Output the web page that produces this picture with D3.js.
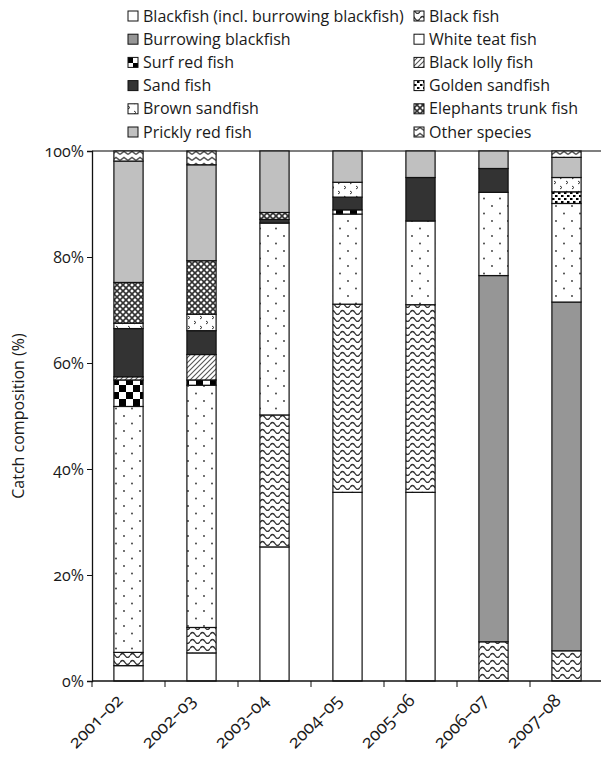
<!DOCTYPE html>
<html>
<head>
<meta charset="utf-8">
<script src="https://cdn.jsdelivr.net/npm/d3@7"></script>
<style>
  body { margin: 0; background: #fff; }
  svg text { font-family: "Open Sans", sans-serif; fill: #1a1a1a; font-variant-numeric: oldstyle-nums; }
</style>
</head>
<body>
<div id="wrap"></div>
<script>
// 年份
const years = ["2001–02", "2002–03", "2003–04", "2004–05", "2005–06", "2006–07", "2007–08"];
// 各物种占比 (%)，自下而上堆叠
const blackfishAll = [2.9, 5.3, 25.3, 35.6, 35.6, 0, 0];
const blackFish = [2.5, 4.8, 24.9, 35.5, 35.4, 7.4, 5.7];
const burrowing = [0, 0, 0, 0, 0, 69.1, 65.8];
const whiteTeat = [46.4, 45.7, 36.2, 17.0, 15.8, 15.7, 18.6];
const surfRed = [5.0, 1.0, 0, 0.8, 0, 0, 0];
const blackLolly = [0.6, 4.8, 0, 0, 0, 0, 0];
const sandFish = [9.1, 4.5, 0.7, 2.4, 8.2, 4.5, 0];
const goldenSand = [0, 0, 0, 0, 0, 0, 2.2];
const brownSand = [1.0, 3.1, 0, 2.8, 0, 0, 2.7];
const elephantsTrunk = [7.7, 10.1, 1.3, 0, 0, 0, 0];
const pricklyRed = [22.9, 18.1, 11.6, 5.9, 5.0, 3.3, 3.8];
const otherSpecies = [1.9, 2.6, 0, 0, 0, 0, 1.2];
const yTicks = [0, 20, 40, 60, 80, 100];

const series = [
  { name: "Blackfish (incl. burrowing blackfish)", values: blackfishAll, fill: "#fff" },
  { name: "Black fish", values: blackFish, fill: "url(#wave)" },
  { name: "Burrowing blackfish", values: burrowing, fill: "#969696" },
  { name: "White teat fish", values: whiteTeat, fill: "url(#dots)" },
  { name: "Surf red fish", values: surfRed, fill: "url(#checker)" },
  { name: "Black lolly fish", values: blackLolly, fill: "url(#diag)" },
  { name: "Sand fish", values: sandFish, fill: "#333" },
  { name: "Golden sandfish", values: goldenSand, fill: "url(#golden)" },
  { name: "Brown sandfish", values: brownSand, fill: "url(#arrows)" },
  { name: "Elephants trunk fish", values: elephantsTrunk, fill: "url(#lattice)" },
  { name: "Prickly red fish", values: pricklyRed, fill: "#c0c0c0" },
  { name: "Other species", values: otherSpecies, fill: "url(#zigzag)" }
];

const width = 601;
const height = 773;
const margin = { top: 151, left: 92, bottom: 681, right: 603 };

let svg = d3.select("#wrap")
  .append("svg")
  .attr("width", width)
  .attr("height", height);

// 图案定义
const defs = svg.append("defs");
function pattern(id, w, h, bg) {
  const p = defs.append("pattern")
    .attr("id", id)
    .attr("patternUnits", "userSpaceOnUse")
    .attr("width", w)
    .attr("height", h);
  p.append("rect").attr("width", w).attr("height", h).attr("fill", bg);
  return p;
}
pattern("wave", 10, 7, "#fff")
  .append("path")
  .attr("d", "M0,4.5 Q2.5,0.5 5,4.5 T10,4.5")
  .attr("fill", "none").attr("stroke", "#333").attr("stroke-width", 1.4);
const dots = pattern("dots", 16, 15, "#fff");
dots.append("circle").attr("cx", 4).attr("cy", 3.5).attr("r", 0.9).attr("fill", "#333");
dots.append("circle").attr("cx", 12).attr("cy", 11).attr("r", 0.9).attr("fill", "#333");
const checker = pattern("checker", 14, 14, "#fff");
checker.append("rect").attr("width", 7).attr("height", 7).attr("fill", "#000");
checker.append("rect").attr("x", 7).attr("y", 7).attr("width", 7).attr("height", 7).attr("fill", "#000");
pattern("diag", 5, 5, "#fff")
  .append("path")
  .attr("d", "M-1,6 L6,-1 M-1,1 L1,-1 M4,6 L6,4")
  .attr("stroke", "#555").attr("stroke-width", 1.1);
const golden = pattern("golden", 6, 6, "#fff");
golden.append("rect").attr("width", 2.5).attr("height", 2).attr("fill", "#000");
golden.append("rect").attr("x", 3).attr("y", 3).attr("width", 2.5).attr("height", 2).attr("fill", "#000");
const arrows = pattern("arrows", 12, 10, "#fff");
arrows.append("path").attr("d", "M2,1 L4,2.5 L2,4").attr("fill", "none").attr("stroke", "#333").attr("stroke-width", 1);
arrows.append("path").attr("d", "M8,6 L10,7.5 L8,9").attr("fill", "none").attr("stroke", "#333").attr("stroke-width", 1);
pattern("lattice", 6, 6, "#fff")
  .append("path")
  .attr("d", "M0,0 L6,6 M6,0 L0,6")
  .attr("stroke", "#333").attr("stroke-width", 1.6);
pattern("zigzag", 8, 6, "#fff")
  .append("path")
  .attr("d", "M0,4.5 L4,1.5 L8,4.5")
  .attr("fill", "none").attr("stroke", "#555").attr("stroke-width", 1.5);

// 比例尺
const xScale = d3.scaleBand()
  .domain(years)
  .range([margin.left, margin.right])
  .paddingInner(0.6)
  .paddingOuter(0.3);
const yScale = d3.scaleLinear()
  .domain([0, 100])
  .range([margin.bottom, margin.top]);

// 堆叠数据
const rows = years.map((y, i) => {
  const r = { year: y };
  series.forEach(s => { r[s.name] = s.values[i]; });
  return r;
});
const stacked = d3.stack().keys(series.map(s => s.name))(rows);

// 顶部边线
svg.append("line")
  .attr("x1", margin.left).attr("x2", width)
  .attr("y1", yScale(100)).attr("y2", yScale(100))
  .attr("stroke", "#555").attr("stroke-width", 1.3);

// 画柱子
stacked.forEach((layer, k) => {
  svg.append("g")
    .selectAll("rect")
    .data(layer.filter(d => d[1] - d[0] > 0))
    .enter()
    .append("rect")
    .attr("x", d => xScale(d.data.year))
    .attr("y", d => yScale(d[1]))
    .attr("width", xScale.bandwidth())
    .attr("height", d => yScale(d[0]) - yScale(d[1]))
    .attr("fill", series[k].fill)
    .attr("stroke", "#111")
    .attr("stroke-width", 1.2);
});

// y轴
const yAxis = d3.axisLeft(yScale)
  .tickValues(yTicks)
  .tickSize(5)
  .tickFormat(d => d + "%");
const gy = svg.append("g").attr("transform", `translate(${margin.left},0)`).call(yAxis);
gy.select(".domain").attr("stroke", "#111").attr("stroke-width", 1.3);
gy.selectAll(".tick line").attr("stroke", "#111");
gy.selectAll("text").attr("font-size", 16).attr("x", -8);

// x轴
const gx = svg.append("g");
gx.append("line")
  .attr("x1", margin.left).attr("x2", width)
  .attr("y1", margin.bottom).attr("y2", margin.bottom)
  .attr("stroke", "#111").attr("stroke-width", 1.3);
const step = xScale.step();
const bounds = years.map(y => xScale(y) - step * xScale.paddingInner() / 2);
gx.selectAll(".xt")
  .data(bounds)
  .enter()
  .append("line")
  .attr("x1", d => d).attr("x2", d => d)
  .attr("y1", margin.bottom).attr("y2", margin.bottom + 6)
  .attr("stroke", "#111");
gx.selectAll(".xl")
  .data(years)
  .enter()
  .append("text")
  .attr("transform", d => `translate(${xScale(d) + xScale.bandwidth() / 2 - 9},${margin.bottom + 16}) rotate(-45)`)
  .attr("text-anchor", "end")
  .attr("dy", "0.35em")
  .attr("font-size", 18)
  .text(d => d);

// y轴标题
svg.append("text")
  .attr("transform", `translate(24,${(margin.top + margin.bottom) / 2}) rotate(-90)`)
  .attr("text-anchor", "middle")
  .attr("font-size", 16)
  .text("Catch composition (%)");

// 图例
const legend = svg.append("g");
series.forEach((s, i) => {
  const col = i % 2;
  const row = Math.floor(i / 2);
  const lx = col === 0 ? 128 : 414;
  const ly = 16 + row * 23.2;
  legend.append("rect")
    .attr("x", lx).attr("y", ly - 5)
    .attr("width", 10).attr("height", 10)
    .attr("fill", s.fill)
    .attr("stroke", "#111");
  legend.append("text")
    .attr("x", lx + 15).attr("y", ly)
    .attr("dy", "0.35em")
    .attr("font-size", 16)
    .text(s.name);
});
</script>
</body>
</html>
